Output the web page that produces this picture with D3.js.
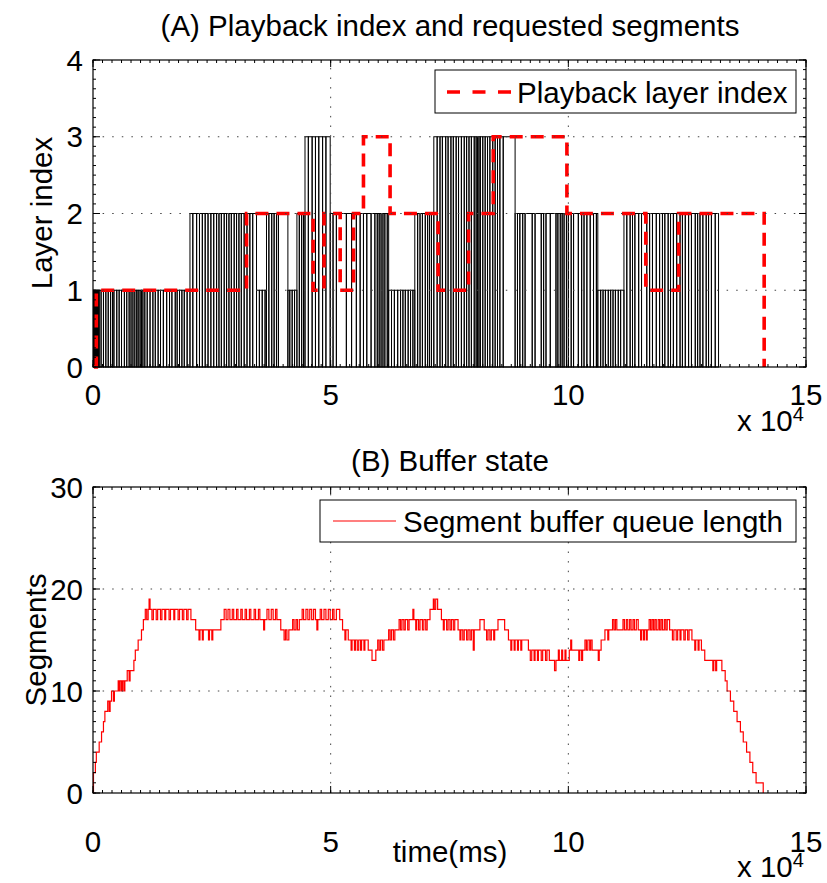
<!DOCTYPE html>
<html>
<head>
<meta charset="utf-8">
<script src="https://cdnjs.cloudflare.com/ajax/libs/d3/7.8.5/d3.min.js"></script>
<style>
  body { margin: 0; background: #fff; }
  text { font-family: "Liberation Sans", Arial, sans-serif; fill: #000; }
</style>
</head>
<body>
<svg id="fig" width="827" height="883"></svg>
<script>
// requested segments: [time (s), layer index]
var requests = [
  [0.1, 1], [0.3, 1], [0.5, 1], [0.7, 1], [0.9, 1], [1.1, 1], [1.3, 1], [1.7, 1], [2.2, 1], [2.7, 1],
  [3.2, 1], [3.7, 1], [4.1, 1], [4.4, 1], [5.0, 1], [5.5, 1], [6.0, 1], [6.6, 1], [7.1, 1], [7.6, 1],
  [8.0, 1], [8.4, 1], [8.8, 1], [9.2, 1], [9.5, 1], [9.9, 1], [10.2, 1], [10.5, 1], [10.9, 1], [11.4, 1],
  [12.0, 1], [12.6, 1], [13.1, 1], [13.7, 1], [14.2, 1], [14.8, 1], [15.5, 1], [16.1, 1], [16.6, 1], [17.3, 1],
  [17.7, 1], [18.2, 1], [18.7, 1], [19.2, 1], [19.8, 1],
  [20.4, 2], [21.0, 2], [21.8, 2], [22.4, 2], [23.0, 2], [23.6, 2], [24.2, 2], [24.8, 2], [25.4, 2], [26.0, 2],
  [26.5, 2], [27.0, 2], [27.6, 2], [28.1, 2], [28.6, 2], [29.1, 2], [29.7, 2], [30.2, 2], [30.7, 2], [31.2, 2],
  [31.8, 2], [32.4, 2], [33.0, 2], [33.6, 2],
  [34.4, 1], [35.0, 1], [35.6, 1], [36.2, 1],
  [36.5, 2], [37.0, 2], [37.6, 2], [38.1, 2], [38.6, 2], [39.0, 2],
  [41.0, 1], [41.4, 1], [41.9, 1], [42.4, 1],
  [42.9, 2], [43.4, 2], [43.9, 2], [44.3, 2],
  [44.6, 3], [45.3, 3], [46.1, 3], [46.8, 3], [47.5, 3], [48.3, 3], [49.0, 3],
  [49.9, 2], [50.5, 2], [51.2, 2], [53.3, 2], [54.4, 2], [55.4, 2], [56.2, 2], [56.9, 2], [57.6, 2], [58.5, 2],
  [59.3, 2], [59.8, 2], [60.2, 2], [60.6, 2], [61.0, 2], [61.4, 2], [61.9, 2],
  [62.2, 1], [62.8, 1], [63.4, 1], [64.1, 1], [64.7, 1], [65.2, 1], [65.7, 1], [66.3, 1], [66.8, 1], [67.3, 1],
  [67.7, 2], [68.3, 2], [68.8, 2], [69.3, 2], [69.9, 2], [70.4, 2], [70.8, 2], [71.2, 2],
  [71.7, 3], [72.4, 3], [73.0, 3], [73.5, 3], [74.2, 3], [74.7, 3], [75.3, 3], [75.8, 3], [76.4, 3], [76.9, 3],
  [77.5, 3], [78.1, 3], [78.6, 3], [79.1, 3], [79.6, 3], [80.2, 3], [80.6, 3], [80.9, 3], [81.2, 3], [81.5, 3],
  [82.0, 3], [82.5, 3], [83.0, 3], [83.5, 3], [84.1, 3], [84.6, 3], [85.1, 3], [85.6, 3], [86.3, 3],
  [88.8, 2], [89.3, 2], [89.8, 2], [90.4, 2], [90.9, 2], [92.4, 2], [93.0, 2], [94.3, 2], [94.8, 2], [95.3, 2],
  [96.2, 2], [97.4, 2], [97.8, 2], [98.3, 2], [98.7, 2], [99.1, 2], [99.6, 2], [100.0, 2], [100.6, 2], [101.1, 2],
  [102.1, 2], [102.8, 2], [103.3, 2], [103.9, 2], [104.6, 2], [105.3, 2], [105.9, 2],
  [106.2, 1], [106.8, 1], [107.3, 1], [107.8, 1], [108.4, 1], [108.9, 1], [109.4, 1], [109.9, 1], [110.5, 1], [111.0, 1],
  [111.7, 2], [112.3, 2], [113.0, 2], [113.5, 2], [114.0, 2], [114.8, 2], [115.4, 2], [116.5, 2], [117.1, 2], [117.7, 2],
  [118.5, 2], [119.2, 2], [119.8, 2], [120.3, 2], [121.0, 2], [121.5, 2], [122.1, 2], [122.8, 2], [123.5, 2], [124.0, 2],
  [124.6, 2], [125.3, 2], [125.9, 2], [126.7, 2], [127.2, 2], [127.7, 2], [128.3, 2], [129.0, 2], [129.5, 2], [130.1, 2],
  [130.9, 2]
];
var requestEnd = 131.6;

// playback layer index: [time (s), layer]
var playback = [
  [0.2, 0], [0.7, 1], [32.3, 2], [46.3, 1], [48.6, 2], [52.0, 1], [54.8, 2], [56.9, 3], [62.5, 2],
  [72.6, 1], [79.0, 2], [84.2, 3], [99.7, 2], [116.3, 1], [123.2, 2], [141.2, 0]
];

// segment buffer queue length: [time (s), segments]
var buffer = [
  [0.0, 0], [0.1, 2], [0.5, 3], [0.7, 4], [1.3, 5], [1.8, 6], [2.2, 7], [2.5, 8], [3.1, 9], [3.4, 8],
  [3.6, 9], [3.9, 10], [4.3, 9], [4.5, 10], [5.3, 11], [5.5, 10], [5.7, 11], [6.0, 10], [6.2, 11], [6.5, 10],
  [6.7, 11], [7.2, 12], [7.6, 11], [7.8, 12], [8.6, 13], [8.9, 14], [9.5, 15], [10.2, 16], [10.6, 17], [11.0, 18],
  [11.3, 17], [11.6, 18], [11.8, 19], [12.0, 18], [12.4, 17], [12.7, 18], [13.3, 17], [13.6, 18], [14.2, 17], [14.5, 18],
  [15.1, 17], [15.3, 18], [16.0, 17], [16.3, 18], [17.0, 17], [17.2, 18], [17.9, 17], [18.2, 18], [18.8, 17], [19.1, 18],
  [19.7, 17], [20.0, 18], [20.6, 17], [21.6, 16], [22.3, 15], [22.5, 16], [23.0, 15], [23.2, 16], [24.3, 15], [24.5, 16],
  [25.0, 15], [25.2, 16], [26.9, 17], [27.6, 18], [28.0, 17], [28.4, 18], [28.8, 17], [29.3, 18], [29.6, 17], [30.2, 18],
  [30.5, 17], [31.1, 18], [31.4, 17], [32.0, 18], [32.3, 17], [32.9, 18], [33.2, 17], [33.9, 18], [34.2, 17], [34.8, 18],
  [35.1, 17], [35.9, 16], [36.1, 17], [36.6, 18], [37.0, 17], [37.5, 18], [37.9, 17], [38.4, 18], [38.7, 17], [39.5, 16],
  [40.2, 15], [40.5, 16], [40.8, 15], [41.2, 16], [42.0, 17], [42.3, 16], [42.7, 17], [43.0, 16], [43.4, 17], [44.0, 18],
  [44.3, 17], [44.8, 18], [45.2, 17], [45.6, 18], [46.0, 17], [46.4, 18], [46.8, 17], [47.1, 16], [47.3, 17], [47.8, 18],
  [48.1, 17], [48.6, 18], [49.0, 17], [49.5, 18], [49.9, 17], [50.4, 18], [50.7, 17], [51.2, 18], [51.9, 17], [52.5, 16],
  [53.0, 15], [53.2, 16], [53.7, 15], [54.3, 14], [54.5, 15], [55.0, 14], [55.2, 15], [55.6, 14], [55.9, 15], [56.3, 14],
  [56.5, 15], [57.0, 14], [57.2, 15], [57.9, 14], [58.7, 13], [59.5, 14], [59.9, 15], [60.2, 14], [60.5, 15], [60.9, 14],
  [61.2, 15], [62.2, 16], [62.5, 15], [62.8, 16], [63.2, 15], [63.5, 16], [64.4, 17], [64.7, 16], [65.0, 17], [65.4, 16],
  [65.7, 17], [66.2, 16], [66.5, 17], [67.3, 18], [67.5, 17], [67.9, 16], [68.1, 17], [68.5, 16], [68.8, 17], [69.3, 16],
  [69.6, 17], [70.0, 16], [70.3, 17], [70.9, 18], [71.6, 19], [71.8, 18], [72.1, 19], [72.5, 18], [73.3, 17], [73.7, 16],
  [73.9, 17], [74.4, 16], [74.7, 17], [75.1, 16], [75.4, 17], [75.8, 16], [76.1, 17], [76.8, 16], [77.2, 15], [77.4, 16],
  [77.8, 15], [78.1, 16], [78.6, 15], [78.9, 16], [79.3, 15], [79.6, 16], [80.0, 14], [80.2, 16], [81.4, 17], [82.3, 16],
  [82.8, 15], [83.1, 16], [83.5, 15], [83.8, 16], [84.3, 15], [84.5, 16], [85.2, 17], [86.6, 16], [87.4, 15], [87.9, 14],
  [88.1, 15], [88.6, 14], [88.8, 15], [89.3, 14], [89.5, 15], [90.0, 14], [90.2, 15], [91.6, 14], [92.0, 13], [92.3, 14],
  [92.8, 13], [93.0, 14], [93.5, 13], [93.7, 14], [94.3, 13], [94.6, 14], [95.2, 13], [95.5, 14], [96.0, 13], [97.1, 12],
  [97.4, 13], [97.9, 14], [98.1, 13], [98.6, 14], [98.8, 13], [99.3, 14], [99.5, 13], [100.2, 14], [100.5, 15], [100.7, 14],
  [102.2, 13], [102.4, 14], [102.8, 13], [103.0, 14], [103.5, 15], [103.8, 14], [104.1, 15], [104.5, 14], [104.7, 15], [105.0, 14],
  [106.3, 13], [106.5, 14], [106.9, 15], [107.7, 16], [108.3, 15], [108.5, 16], [109.3, 17], [109.6, 16], [109.9, 17], [110.2, 16],
  [111.5, 17], [111.8, 16], [112.2, 17], [112.5, 16], [112.9, 17], [113.2, 16], [113.6, 17], [113.9, 16], [114.3, 17], [114.7, 16],
  [115.2, 15], [115.4, 16], [115.8, 15], [116.0, 16], [116.4, 15], [116.6, 16], [117.0, 17], [117.3, 16], [117.6, 17], [117.9, 16],
  [118.2, 17], [118.5, 16], [118.9, 17], [119.2, 16], [119.5, 17], [119.8, 16], [120.2, 17], [120.5, 16], [120.8, 17], [121.3, 16],
  [121.9, 15], [122.2, 16], [122.7, 15], [123.0, 16], [123.5, 15], [123.7, 16], [124.3, 15], [124.6, 16], [125.1, 15], [125.4, 16],
  [126.0, 15], [126.6, 14], [126.8, 15], [127.3, 14], [127.5, 15], [128.0, 14], [128.7, 13], [130.4, 12], [130.6, 13], [131.0, 12],
  [131.2, 13], [132.3, 12], [133.0, 11], [133.4, 10], [134.1, 9], [134.8, 8], [135.5, 7], [136.2, 6], [136.8, 5], [137.5, 4],
  [138.2, 3], [138.8, 2], [139.5, 1], [141.0, 0]
];

var xTicks = [0, 50000, 100000, 150000];
var layerTicks = [0, 1, 2, 3, 4];
var bufferTicks = [0, 10, 20, 30];

var fs = 29.5;
var left = 93, right = 806;
var svg = d3.select("#fig");
svg.append("rect").attr("width", 827).attr("height", 883).attr("fill", "#fff");

var x = d3.scaleLinear().domain([0, 150000]).range([left, right]);
var yA = d3.scaleLinear().domain([0, 4]).range([367, 60]);
var yB = d3.scaleLinear().domain([0, 30]).range([793, 487]);

function ms(s) { return s * 1000; }

// grid, ticks, box and tick labels in a MATLAB-like style
function frame(y, yTicks, yMinor, labelGap, expGap) {
  var g = svg.append("g");
  var y0 = y.range()[0], y1 = y.range()[1];

  g.selectAll(".gx").data(xTicks.slice(1, -1)).enter().append("line")
    .attr("x1", d => x(d)).attr("x2", d => x(d)).attr("y1", y0).attr("y2", y1)
    .attr("stroke", "#444").attr("stroke-width", 1).attr("stroke-dasharray", "1.5,8.1");
  g.selectAll(".gy").data(yTicks.slice(1, -1)).enter().append("line")
    .attr("x1", left).attr("x2", right).attr("y1", d => y(d)).attr("y2", d => y(d))
    .attr("stroke", "#444").attr("stroke-width", 1).attr("stroke-dasharray", "1.5,8.1");

  // minor and major ticks pointing inward on all four sides
  var xMinor = d3.range(0, 150001, 2000);
  [[y0, -1], [y1, 1]].forEach(function (p) {
    g.append("path").attr("stroke", "#000").attr("stroke-width", 1)
      .attr("d", xMinor.map(d => "M" + x(d) + "," + p[0] + "v" + (3 * p[1])).join(""));
    g.append("path").attr("stroke", "#000").attr("stroke-width", 1)
      .attr("d", xTicks.map(d => "M" + x(d) + "," + p[0] + "v" + (7 * p[1])).join(""));
  });
  [[left, 1], [right, -1]].forEach(function (p) {
    g.append("path").attr("stroke", "#000").attr("stroke-width", 1)
      .attr("d", yMinor.map(d => "M" + p[0] + "," + y(d) + "h" + (3 * p[1])).join(""));
    g.append("path").attr("stroke", "#000").attr("stroke-width", 1)
      .attr("d", yTicks.map(d => "M" + p[0] + "," + y(d) + "h" + (7 * p[1])).join(""));
  });

  g.append("rect").attr("x", left).attr("y", y1).attr("width", right - left).attr("height", y0 - y1)
    .attr("fill", "none").attr("stroke", "#000").attr("stroke-width", 1.2);

  g.selectAll(".tx").data(xTicks).enter().append("text")
    .attr("x", d => x(d)).attr("y", y0 + labelGap).attr("text-anchor", "middle")
    .attr("font-size", fs).text(d => d / 10000);
  g.selectAll(".ty").data(yTicks).enter().append("text")
    .attr("x", left - 10).attr("y", d => y(d) + 10.5).attr("text-anchor", "end")
    .attr("font-size", fs).text(d => d);

  var ex = g.append("text").attr("x", 737).attr("y", y0 + expGap).attr("font-size", fs);
  ex.append("tspan").text("x 10");
  ex.append("tspan").attr("font-size", 20).attr("dy", -10).text("4");
  return g;
}

///// Panel A
var gA = svg.append("g");
var reqEnds = requests.map((d, i) => i < requests.length - 1 ? requests[i + 1][0] : requestEnd);
gA.selectAll(".req").data(requests).enter().append("rect")
  .attr("x", d => x(ms(d[0])))
  .attr("y", d => yA(d[1]))
  .attr("width", (d, i) => x(ms(reqEnds[i])) - x(ms(d[0])))
  .attr("height", d => yA(0) - yA(d[1]))
  .attr("fill", "none").attr("stroke", "#000").attr("stroke-width", 1);

gA.append("path").datum(playback)
  .attr("fill", "none").attr("stroke", "#ff0000").attr("stroke-width", 3.6)
  .attr("stroke-dasharray", "13,8")
  .attr("d", d3.line().curve(d3.curveStepAfter).x(d => x(ms(d[0]))).y(d => yA(d[1])));

frame(yA, layerTicks, d3.range(0, 4.001, 0.125), 38, 64);

svg.append("text").attr("x", 450).attr("y", 36).attr("text-anchor", "middle")
  .attr("font-size", fs).text("(A) Playback index and requested segments");
svg.append("text").attr("transform", "translate(52,213) rotate(-90)").attr("text-anchor", "middle")
  .attr("font-size", fs).text("Layer index");

// legend A
svg.append("rect").attr("x", 435).attr("y", 70).attr("width", 361).attr("height", 43)
  .attr("fill", "#fff").attr("stroke", "#000").attr("stroke-width", 1);
svg.append("line").attr("x1", 447).attr("x2", 511).attr("y1", 92).attr("y2", 92)
  .attr("stroke", "#ff0000").attr("stroke-width", 3.6).attr("stroke-dasharray", "13,12.5");
svg.append("text").attr("x", 517).attr("y", 102.5).attr("font-size", fs).text("Playback layer index");

///// Panel B
svg.append("path").datum(buffer)
  .attr("fill", "none").attr("stroke", "#ff0000").attr("stroke-width", 1.2)
  .attr("d", d3.line().curve(d3.curveStepAfter).x(d => x(ms(d[0]))).y(d => yB(d[1])));

frame(yB, bufferTicks, d3.range(0, 30.001, 1), 59, 84);

svg.append("text").attr("x", 450).attr("y", 471).attr("text-anchor", "middle")
  .attr("font-size", fs).text("(B) Buffer state");
svg.append("text").attr("transform", "translate(46,640) rotate(-90)").attr("text-anchor", "middle")
  .attr("font-size", fs).text("Segments");
svg.append("text").attr("x", 450).attr("y", 862).attr("text-anchor", "middle")
  .attr("font-size", fs).text("time(ms)");

// legend B
svg.append("rect").attr("x", 320).attr("y", 500).attr("width", 476).attr("height", 42)
  .attr("fill", "#fff").attr("stroke", "#000").attr("stroke-width", 1);
svg.append("line").attr("x1", 333).attr("x2", 396).attr("y1", 521).attr("y2", 521)
  .attr("stroke", "#ff0000").attr("stroke-width", 1.2);
svg.append("text").attr("x", 403).attr("y", 531.5).attr("font-size", fs).text("Segment buffer queue length");
</script>
</body>
</html>
